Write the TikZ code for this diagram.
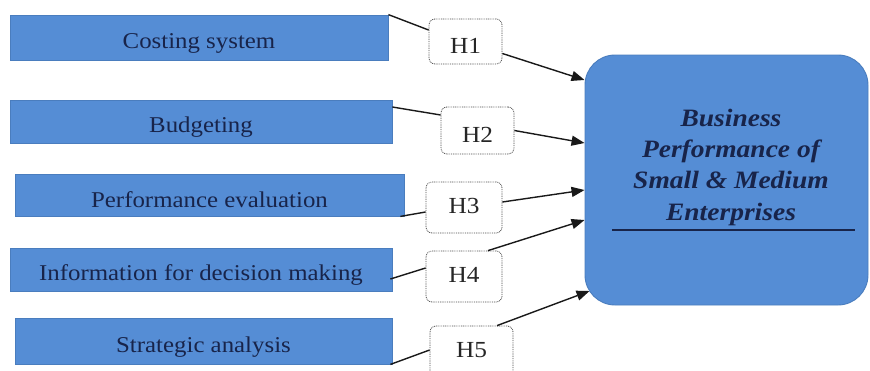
\documentclass[tikz,border=0pt]{standalone}
\usepackage{fontspec}
\setmainfont{Liberation Serif}[FakeStretch=1.1]
\usetikzlibrary{arrows.meta}
\definecolor{boxblue}{HTML}{558DD5}
\definecolor{boxedge}{HTML}{4A7DBE}
\definecolor{navy}{HTML}{18244A}
\begin{document}
\begin{tikzpicture}[x=1pt,y=-1pt,
  bluebox/.style={draw=boxedge,fill=boxblue,line width=0.8pt,inner sep=0pt,
    anchor=base,text=navy,font=\fontsize{22.6}{27}\selectfont},
  hbox/.style={draw=black!70,fill=white,dash pattern=on 0.9pt off 0.9pt,line width=0.8pt,
    rounded corners=6pt,inner sep=0pt,anchor=base,text=black!85,
    font=\fontsize{23}{27}\selectfont},
  bigtext/.style={anchor=base,text=navy,inner sep=0pt,
    font=\fontsize{25}{31}\selectfont\bfseries\itshape},
  link/.style={draw=black!90,line width=1.4pt},
  arr/.style={link,-{Triangle[length=13pt,width=10pt]}}]
\useasboundingbox (0,0) rectangle (870,370);
\clip (0,0) rectangle (870,370);
% left boxes
\node[bluebox,minimum width=378pt,text height=33pt,text depth=12pt] (b1) at (199,48) {Costing system};
\node[bluebox,minimum width=382pt,text height=32pt,text depth=11pt] (b2) at (201,132) {Budgeting};
\node[bluebox,minimum width=389pt,text height=33pt,text depth=9pt] (b3) at (209.5,207) {Performance evaluation};
\node[bluebox,minimum width=382pt,text height=32pt,text depth=11pt] (b4) at (201,280) {Information for decision making};
\node[bluebox,minimum width=377pt,text height=34pt,text depth=12pt] (b5) at (203.5,352) {Strategic analysis};
% hypothesis boxes
\node[hbox,minimum width=73pt,text height=34pt,text depth=11pt] (h1) at (465.5,53) {H1};
\node[hbox,minimum width=73pt,text height=35pt,text depth=12pt] (h2) at (477.5,142) {H2};
\node[hbox,minimum width=76pt,text height=31pt,text depth=20pt] (h3) at (464,213) {H3};
\node[hbox,minimum width=76pt,text height=31pt,text depth=20pt] (h4) at (464,282) {H4};
\node[hbox,minimum width=83pt,text height=31pt,text depth=30pt] (h5) at (471.5,357) {H5};
% big box
\node[draw=boxedge,fill=boxblue,line width=0.9pt,rounded corners=30pt,
  minimum width=283pt,minimum height=250pt,inner sep=0pt] (big) at (726.5,180) {};
\node[bigtext] (bt1) at (731,126) {Business};
\node[bigtext] (bt2) at (731,157.5) {Performance of};
\node[bigtext] (bt3) at (731,188.5) {Small \& Medium};
\node[bigtext] (bt4) at (731,220) {Enterprises};
\draw[navy,line width=1.2pt] (612,230) -- (855,230);
% connectors
\draw[link] (b1.north east) -- ([yshift=11.5pt]h1.west);
\draw[arr] ([yshift=-12pt]h1.east) -- ([yshift=100pt]big.west);
\draw[link] ([yshift=14.5pt]b2.east) -- ([yshift=15.5pt]h2.west);
\draw[arr] (h2.east) -- ([yshift=37pt]big.west);
\draw[link] ([xshift=-4pt]b3.south east) -- ([yshift=-4.5pt]h3.west);
\draw[arr] ([yshift=5.5pt]h3.east) -- ([yshift=-10pt]big.west);
\draw[link] ([xshift=-2pt,yshift=-9.5pt]b4.east) -- ([yshift=8.5pt]h4.west);
\draw[arr] ([xshift=24pt]h4.north) -- ([yshift=-40pt]big.west);
\draw[link] ([xshift=-2pt]b5.south east) -- ([yshift=6.5pt]h5.west);
\draw[arr] ([xshift=25.5pt]h5.north) -- ([xshift=5pt,yshift=-111pt]big.west);
\end{tikzpicture}
\end{document}
